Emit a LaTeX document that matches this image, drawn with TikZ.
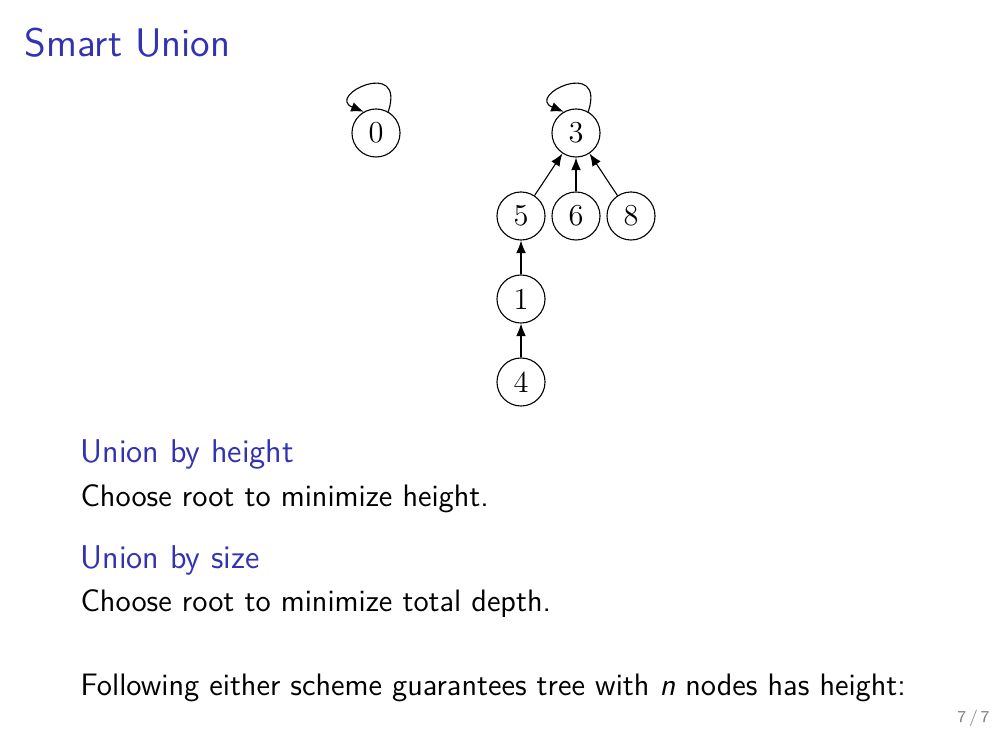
\documentclass[tikz,border=0pt]{standalone}
\usetikzlibrary{arrows.meta}
\definecolor{beamerblue}{rgb}{0.2,0.2,0.7}
\begin{document}
\begin{tikzpicture}[x=0.12698mm,y=-0.12698mm,
  vert/.style={circle,draw,line width=0.4pt,minimum size=6.1mm,inner sep=0pt,font=\fontsize{11}{13}\selectfont\rmfamily},
  parent/.style={-{Latex[length=1.6mm,width=1.25mm]},line width=0.4pt},
  selfloop/.style={-{Latex[length=1.6mm,width=1.25mm]},line width=0.4pt},
  txt/.style={anchor=base west,inner sep=0pt,font=\fontsize{11.2}{13}\selectfont\sffamily},
  head/.style={anchor=base west,inner sep=0pt,text=beamerblue,font=\fontsize{11.9}{14}\selectfont\sffamily}]
\useasboundingbox (0,0) rectangle (1008,756);
\node[anchor=base west,inner sep=0pt,text=beamerblue,font=\fontsize{14.4}{17}\selectfont\sffamily] (title) at (24,57) {Smart Union};
\node[vert] (n0) at (376,133) {0};
\node[vert] (n3) at (576,133) {3};
\node[vert] (n5) at (521,216) {5};
\node[vert] (n6) at (576,216) {6};
\node[vert] (n8) at (631,216) {8};
\node[vert] (n1) at (521,299) {1};
\node[vert] (n4) at (521,382) {4};
\draw[selfloop] (n0.60) .. controls +(-72:58) and +(-158:42) .. (n0.120);
\draw[selfloop] (n3.60) .. controls +(-72:58) and +(-158:42) .. (n3.120);
\draw[parent] (n5) -- (n3);
\draw[parent] (n6) -- (n3);
\draw[parent] (n8) -- (n3);
\draw[parent] (n1) -- (n5);
\draw[parent] (n4) -- (n1);
\node[head] (h1) at (80,463) {Union by height};
\node[txt] (t1) at (80,506) {Choose root to minimize height.};
\node[head] (h2) at (80,568) {Union by size};
\node[txt] (t2) at (80,611) {Choose root to minimize total depth.};
\node[txt] (t3) at (80,695) {Following either scheme guarantees tree with \textit{n} nodes has height:};
\node[anchor=base east,inner sep=0pt,text=black!50,font=\fontsize{6}{7}\selectfont\sffamily] (pg) at (990,722) {7\,/\,7};
\end{tikzpicture}
\end{document}
